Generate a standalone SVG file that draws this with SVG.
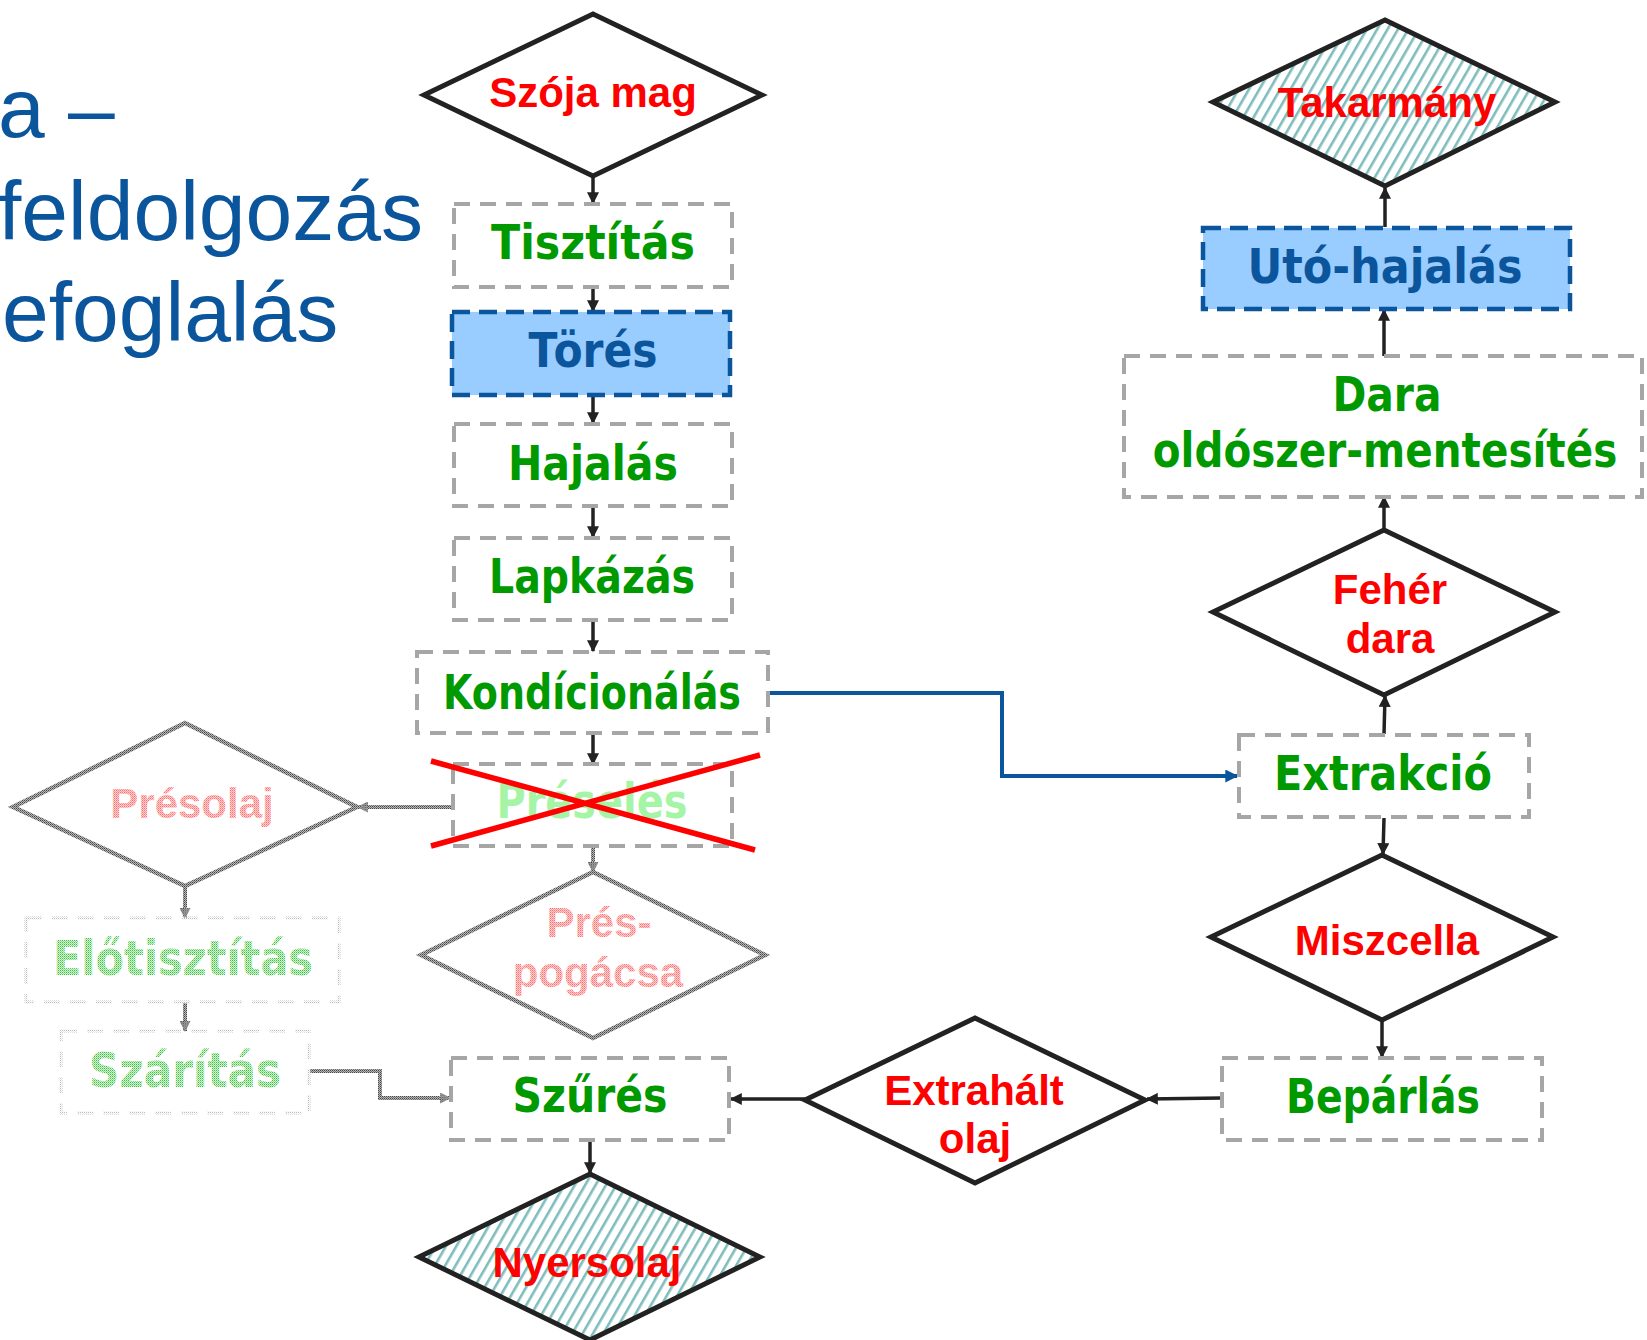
<svg xmlns="http://www.w3.org/2000/svg" width="1647" height="1340" viewBox="0 0 1647 1340">
<style>
.title{font-family:"Liberation Sans",Arial,sans-serif;font-size:84px;fill:#0a559c}
.red{font-family:"Liberation Sans",Arial,sans-serif;font-weight:bold;font-size:42px;fill:#ff0000;text-anchor:middle}
.cm{font-family:"DejaVu Sans",sans-serif;font-weight:bold;font-size:48px;text-anchor:middle}
.grn{fill:#009900}
.blu{fill:#0a559c}
.box{fill:#ffffff;stroke:#a6a6a6;stroke-width:4;stroke-dasharray:16 10}
.bbox{fill:#99ccff;stroke:#0a559c;stroke-width:4.5;stroke-dasharray:18 9}
.dia{fill:#ffffff;stroke:#222222;stroke-width:5;stroke-linejoin:miter}
.hat{fill:url(#hatch);stroke:#222222;stroke-width:5}
.fdia{fill:#ffffff;stroke:url(#dGray);stroke-width:4.5}
.fbox{fill:none;stroke:url(#dLight);stroke-width:3;stroke-dasharray:16 10}
.fred{fill:url(#dRed)}
.fgrn{fill:url(#dGreen)}
.con{fill:none;stroke:#222222;stroke-width:3.5}
.fcon{fill:none;stroke:url(#dGray);stroke-width:4}
</style>
<defs>
<pattern id="hatch" width="9" height="9" patternUnits="userSpaceOnUse" patternTransform="rotate(30)">
<rect width="9" height="9" fill="#ffffff"/>
<rect x="0" y="0" width="2.6" height="9" fill="#7fbdbd"/>
</pattern>
<pattern id="dGray" width="2" height="2" patternUnits="userSpaceOnUse">
<rect width="2" height="2" fill="#b8b8b8"/>
<rect width="1" height="1" fill="#444444"/>
<rect x="1" y="1" width="1" height="1" fill="#707070"/>
</pattern>
<pattern id="dLight" width="2" height="2" patternUnits="userSpaceOnUse">
<rect width="1" height="1" fill="#bbbbbb"/>
<rect x="1" y="1" width="1" height="1" fill="#e6e6e6"/>
</pattern>
<pattern id="dRed" width="2" height="2" patternUnits="userSpaceOnUse">
<rect width="2" height="2" fill="#ffd0d0"/>
<rect width="1" height="1" fill="#ff7070"/>
<rect x="1" y="1" width="1" height="1" fill="#ff9999"/>
</pattern>
<pattern id="dGreen" width="2" height="2" patternUnits="userSpaceOnUse">
<rect width="2" height="2" fill="#d4f5d4"/>
<rect width="1" height="1" fill="#44bb44"/>
<rect x="1" y="1" width="1" height="1" fill="#88dd88"/>
</pattern>
<marker id="ah" viewBox="0 0 10 10" refX="9" refY="5" markerWidth="14" markerHeight="12" markerUnits="userSpaceOnUse" orient="auto">
<path d="M0,0 L10,5 L0,10 z" fill="#222222"/>
</marker>
<marker id="ahb" viewBox="0 0 10 10" refX="9" refY="5" markerWidth="14" markerHeight="13" markerUnits="userSpaceOnUse" orient="auto">
<path d="M0,0 L10,5 L0,10 z" fill="#0a559c"/>
</marker>
<marker id="ahf" viewBox="0 0 10 10" refX="9" refY="5" markerWidth="13" markerHeight="11" markerUnits="userSpaceOnUse" orient="auto">
<path d="M0,0 L10,5 L0,10 z" fill="url(#dGray)"/>
</marker>
</defs>
<rect width="1647" height="1340" fill="#ffffff"/>

<g id="title">
<text class="title" x="-2" y="137">a –</text>
<text class="title" x="-2" y="240">feldolgozás</text>
<text class="title" x="2" y="341">efoglalás</text>
</g>

<g id="connectors">
<path class="con" d="M593,178 L593,203" marker-end="url(#ah)"/>
<path class="con" d="M593,287 L593,311" marker-end="url(#ah)"/>
<path class="con" d="M593,395 L593,423" marker-end="url(#ah)"/>
<path class="con" d="M593,506 L593,537" marker-end="url(#ah)"/>
<path class="con" d="M593,620 L593,651" marker-end="url(#ah)"/>
<path class="con" d="M593,733 L593,764" marker-end="url(#ah)"/>
<path class="fcon" d="M453,807 L358,807" marker-end="url(#ahf)"/>
<path class="fcon" d="M593,848 L593,872" marker-end="url(#ahf)"/>
<path class="fcon" d="M185,887 L185,918" marker-end="url(#ahf)"/>
<path class="fcon" d="M185,1003 L185,1031" marker-end="url(#ahf)"/>
<path class="fcon" d="M310,1071 L380,1071 L380,1098 L450,1098" marker-end="url(#ahf)"/>
<path class="con" d="M590,1141 L590,1173" marker-end="url(#ah)"/>
<path class="con" stroke-width="4" d="M805,1099 L731,1099" marker-end="url(#ah)"/>
<path class="con" stroke-width="4" d="M1222,1098 L1147,1099" marker-end="url(#ah)"/>
<path class="con" stroke-width="4" d="M1382,1021 L1382,1057" marker-end="url(#ah)"/>
<path class="con" stroke-width="4" d="M1384,818 L1383,854" marker-end="url(#ah)"/>
<path class="con" stroke-width="4" d="M1384,734 L1385,696" marker-end="url(#ah)"/>
<path class="con" stroke-width="4" d="M1384,529 L1384,497" marker-end="url(#ah)"/>
<path class="con" stroke-width="4" d="M1384,356 L1384,310" marker-end="url(#ah)"/>
<path class="con" stroke-width="4" d="M1385,227 L1385,188" marker-end="url(#ah)"/>
<path fill="none" stroke="#0a559c" stroke-width="4" d="M770,693 L1002,693 L1002,776 L1237,776" marker-end="url(#ahb)"/>
</g>

<g id="szoja-mag">
<polygon class="dia" points="593,14 762,95 593,176 424,95"/>
<text class="red" x="593" y="107">Szója mag</text>
</g>
<g id="tisztitas">
<rect class="box" x="454" y="204" width="278" height="83"/>
<text class="cm grn" x="593" y="259" textLength="204" lengthAdjust="spacingAndGlyphs">Tisztítás</text>
</g>
<g id="tores">
<rect class="bbox" x="452" y="312" width="278" height="83"/>
<text class="cm blu" x="593" y="367" textLength="129" lengthAdjust="spacingAndGlyphs">Törés</text>
</g>
<g id="hajalas">
<rect class="box" x="454" y="424" width="278" height="82"/>
<text class="cm grn" x="593" y="480" textLength="170" lengthAdjust="spacingAndGlyphs">Hajalás</text>
</g>
<g id="lapkazas">
<rect class="box" x="454" y="538" width="278" height="82"/>
<text class="cm grn" x="592" y="593" textLength="206" lengthAdjust="spacingAndGlyphs">Lapkázás</text>
</g>
<g id="kondicionalas">
<rect class="box" x="417" y="652" width="351" height="81"/>
<text class="cm grn" x="592" y="709" textLength="298" lengthAdjust="spacingAndGlyphs">Kondícionálás</text>
</g>
<g id="preseles">
<rect class="box" x="453" y="764" width="279" height="82"/>
<text class="cm" fill="#a6f5a6" x="592" y="818" textLength="191" lengthAdjust="spacingAndGlyphs">Préselés</text>
<path d="M431,761 L755,850 M431,846 L760,755" stroke="#ff0000" stroke-width="5.5" fill="none"/>
</g>
<g id="presolaj">
<polygon class="fdia" points="185,723 357,807 185,886 13,807"/>
<text class="red fred" x="192" y="818">Présolaj</text>
</g>
<g id="prespogacsa">
<polygon class="fdia" points="593,872 765,955 593,1038 421,955"/>
<text class="red fred" x="599" y="937">Prés-</text>
<text class="red fred" x="598" y="987">pogácsa</text>
</g>
<g id="elotisztitas">
<rect class="fbox" x="26" y="918" width="313" height="84"/>
<text class="cm fgrn" x="183" y="975" textLength="260" lengthAdjust="spacingAndGlyphs">Előtisztítás</text>
</g>
<g id="szaritas">
<rect class="fbox" x="61" y="1031" width="248" height="82"/>
<text class="cm fgrn" x="185" y="1087" textLength="192" lengthAdjust="spacingAndGlyphs">Szárítás</text>
</g>
<g id="szures">
<rect class="box" x="451" y="1058" width="278" height="82"/>
<text class="cm grn" x="590" y="1112" textLength="155" lengthAdjust="spacingAndGlyphs">Szűrés</text>
</g>
<g id="nyersolaj">
<polygon class="hat" points="590,1174 760,1257 590,1340 419,1257"/>
<text class="red" x="587" y="1277">Nyersolaj</text>
</g>
<g id="extrahalt-olaj">
<polygon class="dia" points="975,1018 1145,1100 975,1183 805,1100"/>
<text class="red" x="974" y="1105">Extrahált</text>
<text class="red" x="975" y="1153">olaj</text>
</g>
<g id="beparlas">
<rect class="box" x="1222" y="1058" width="320" height="82"/>
<text class="cm grn" x="1383" y="1113" textLength="194" lengthAdjust="spacingAndGlyphs">Bepárlás</text>
</g>
<g id="miszcella">
<polygon class="dia" points="1382,855 1553,937 1382,1020 1211,937"/>
<text class="red" x="1387" y="955">Miszcella</text>
</g>
<g id="extrakcio">
<rect class="box" x="1239" y="735" width="290" height="82"/>
<text class="cm grn" x="1383" y="790" textLength="218" lengthAdjust="spacingAndGlyphs">Extrakció</text>
</g>
<g id="feher-dara">
<polygon class="dia" points="1384,530 1555,612 1384,695 1213,612"/>
<text class="red" x="1390" y="604">Fehér</text>
<text class="red" x="1390" y="653">dara</text>
</g>
<g id="dara-oldoszermentesites">
<rect class="box" x="1124" y="356" width="518" height="141"/>
<text class="cm grn" x="1387" y="411" textLength="109" lengthAdjust="spacingAndGlyphs">Dara</text>
<text class="cm grn" transform="translate(1385,467) scale(1,1.18)" x="0" y="0" style="font-size:40.5px">oldószer-mentesítés</text>
</g>
<g id="uto-hajalas">
<rect class="bbox" x="1203" y="228" width="367" height="81"/>
<text class="cm blu" x="1385" y="283" textLength="275" lengthAdjust="spacingAndGlyphs">Utó-hajalás</text>
</g>
<g id="takarmany">
<polygon class="hat" points="1385,20 1555,102 1385,186 1213,102"/>
<text class="red" x="1387" y="117">Takarmány</text>
</g>
</svg>
